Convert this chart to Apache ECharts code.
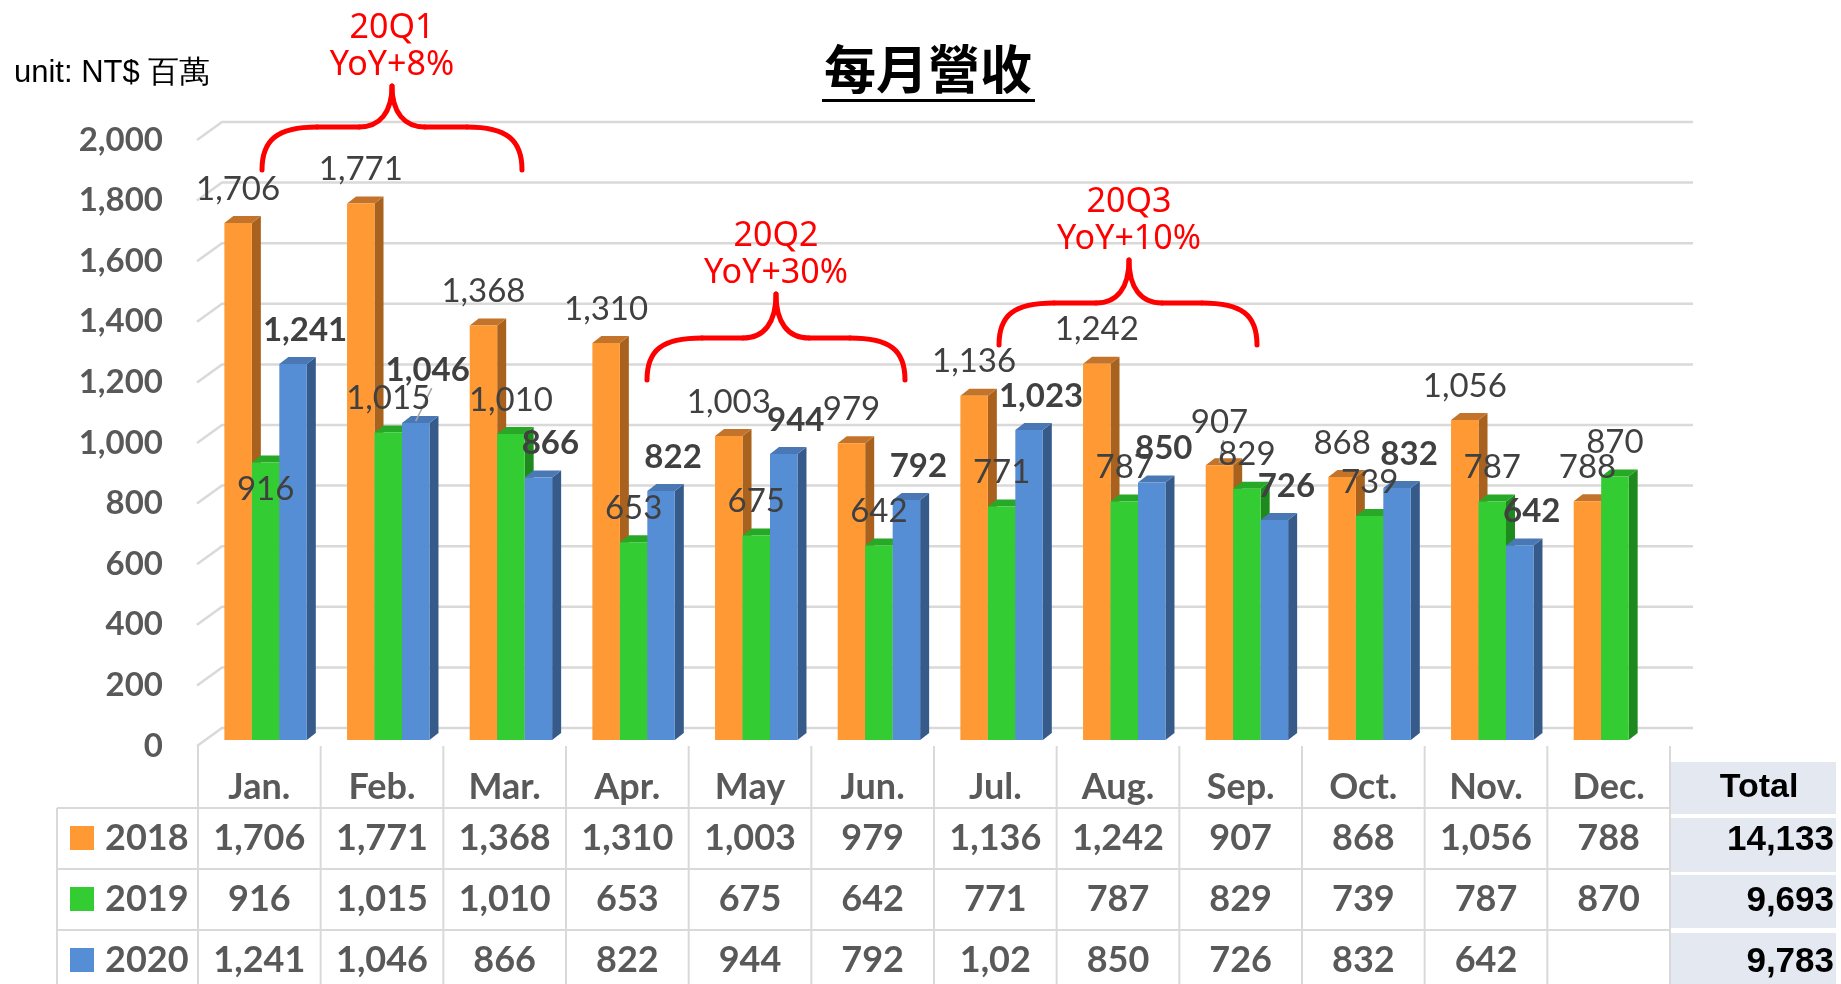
<!DOCTYPE html>
<html>
<head>
<meta charset="utf-8">
<title>每月營收</title>
<script src="https://cdn.jsdelivr.net/npm/echarts@6/dist/echarts.min.js"></script>
<style>
  html, body { margin: 0; padding: 0; background: #fff; }
  #main { width: 1841px; height: 984px; }
</style>
</head>
<body>
<div id="main"></div>
<script>
// 月份 / 年度
const months = ['Jan.', 'Feb.', 'Mar.', 'Apr.', 'May', 'Jun.', 'Jul.', 'Aug.', 'Sep.', 'Oct.', 'Nov.', 'Dec.']
const years = ['2018', '2019', '2020']
// 每月營收 (NT$ 百萬)
const rev2018 = [1706, 1771, 1368, 1310, 1003, 979, 1136, 1242, 907, 868, 1056, 788]
const rev2019 = [916, 1015, 1010, 653, 675, 642, 771, 787, 829, 739, 787, 870]
const rev2020 = [1241, 1046, 866, 822, 944, 792, 1023, 850, 726, 832, 642, null]
const totals = ['14,133', '9,693', '9,783']
const valueTicks = [0, 200, 400, 600, 800, 1000, 1200, 1400, 1600, 1800, 2000]
// 季度標註
const quarterNames = ['20Q1', '20Q2', '20Q3']
const quarterYoY = ['YoY+8%', 'YoY+30%', 'YoY+10%']

const allRev = [rev2018, rev2019, rev2020]
const palette = [
  { front: '#FF9933', side: '#A8621E', top: '#C4742A' },
  { front: '#33CC33', side: '#1E8A1E', top: '#27A827' },
  { front: '#558ED5', side: '#365A8A', top: '#4A78B5' }
]
// the table shows a clipped cell for 2020 Jul
const cellOverride = { '2-6': '1,02' }
// label tweaks (px) where the original moved a label
const labelNudge = { '1-0': 61, '2-1': -19, '0-8': -9 }
const labelDx = [0, 0, 12]

const fmt = v => (v == null ? '' : v.toLocaleString('en-US'))
const GRAY = '#595959'
const chart = echarts.init(document.getElementById('main'))

function barRenderer (s) {
  return function (params, api) {
    const cat = api.value(0)
    const val = api.value(1)
    const base = api.coord([cat, 0])
    const top = api.coord([cat, val])
    const band = api.size([1, 0])[0]
    const w = band * 0.224
    const x0 = base[0] - band * 0.285 + s * w
    const yb = base[1] - 6
    const yt = top[1] - 6
    const dx = 9
    const dy = 7
    const c = palette[s]
    const nudge = labelNudge[s + '-' + cat] || 0
    const children = [
      { type: 'polygon', shape: { points: [[x0 + w, yt], [x0 + w + dx, yt - dy], [x0 + w + dx, yb - dy], [x0 + w, yb]] }, style: { fill: c.side } },
      { type: 'polygon', shape: { points: [[x0, yt], [x0 + dx, yt - dy], [x0 + w + dx, yt - dy], [x0 + w, yt]] }, style: { fill: c.top } },
      { type: 'rect', shape: { x: x0, y: yt, width: w, height: yb - yt }, style: { fill: c.front } },
      {
        type: 'text',
        z2: 100,
        style: {
          text: fmt(val),
          x: x0 + w / 2 + labelDx[s],
          y: yt - 34 + nudge,
          align: 'center',
          verticalAlign: 'middle',
          font: (s === 2 ? 'bold ' : '') + '33px Lato',
          fill: '#404040'
        }
      }
    ]
    // 被移高的標籤加上引導線
    if (nudge < 0) {
      children.push({
        type: 'line',
        z2: 99,
        shape: { x1: x0 + w / 2 + labelDx[s] + 4, y1: yt - 22 + nudge + 6, x2: x0 + w / 2, y2: yt - 2 },
        style: { stroke: '#A6A6A6', lineWidth: 1.5 }
      })
    }
    return { type: 'group', children: children }
  }
}

// 背牆格線 (3D 斜線 + 水平線)
function wallRenderer (params, api) {
  const cs = params.coordSys
  const y = api.coord([0, api.value(1)])[1]
  const xl = cs.x - 1
  return {
    type: 'polyline',
    shape: { points: [[xl, y], [xl + 25, y - 18], [cs.x + cs.width + 23, y - 18]] },
    style: { stroke: '#D9D9D9', lineWidth: 2.5, fill: null }
  }
}

const series = [{
  type: 'custom',
  name: 'wall',
  z: 1,
  clip: false,
  silent: true,
  renderItem: wallRenderer,
  data: valueTicks.map(v => [0, v])
}]
allRev.forEach((rev, s) => {
  const data = []
  rev.forEach((v, i) => { if (v != null) data.push([i, v]) })
  series.push({
    type: 'custom',
    name: years[s],
    z: 2,
    clip: false,
    renderItem: barRenderer(s),
    data: data
  })
})

chart.setOption({
  animation: false,
  textStyle: { fontFamily: 'Lato' },
  grid: { left: 198, right: 171, top: 140, bottom: 238 },
  xAxis: {
    type: 'category',
    data: months,
    axisLine: { show: false },
    axisTick: { show: false },
    axisLabel: { show: false },
    splitLine: { show: false }
  },
  yAxis: {
    type: 'value',
    min: 0,
    max: 2000,
    interval: 200,
    axisLine: { show: false },
    axisTick: { show: false },
    splitLine: { show: false },
    axisLabel: {
      margin: 35,
      color: GRAY,
      fontWeight: 'bold',
      fontSize: 33,
      fontFamily: 'Lato',
      formatter: v => fmt(v)
    }
  },
  series: series
})

// 資料表、標題與標註
function txt (text, x, y, font, fill, align) {
  return {
    type: 'text',
    z: 10,
    style: { text, x, y, font, fill, align: align || 'center', verticalAlign: 'middle', textAlign: align || 'center', textVerticalAlign: 'middle' }
  }
}
function line (x1, y1, x2, y2) {
  return { type: 'line', z: 5, shape: { x1, y1, x2, y2 }, style: { stroke: '#D9D9D9', lineWidth: 2 } }
}
const RED = { stroke: '#FF0000', lineWidth: 5, fill: null, lineCap: 'round' }
function curve (x1, y1, c1x, c1y, c2x, c2y, x2, y2) {
  return { type: 'bezierCurve', z: 12, shape: { x1, y1, cpx1: c1x, cpy1: c1y, cpx2: c2x, cpy2: c2y, x2, y2 }, style: RED }
}
function redLine (x1, y1, x2, y2) {
  return { type: 'line', z: 12, shape: { x1, y1, x2, y2 }, style: RED }
}
// 大括號: 左端、右端、尖端 x、尖端 y、水平段 y、端點 y
function brace (L, R, T, tipY, hy, endY) {
  return [
    curve(L, endY, L, endY - 30, L + 15, hy, L + 55, hy),
    redLine(L + 55, hy, T - 33, hy),
    curve(T - 33, hy, T - 12, hy, T, hy - 15, T, tipY),
    curve(T, tipY, T, hy - 15, T + 12, hy, T + 33, hy),
    redLine(T + 33, hy, R - 55, hy),
    curve(R - 55, hy, R - 15, hy, R, endY - 30, R, endY)
  ]
}

const els = []
const colX = months.map((m, i) => chart.convertToPixel({ xAxisIndex: 0 }, i))
const band = colX[1] - colX[0]
const tableLeft = colX[0] - band / 2
const tableRight = colX[11] + band / 2
const rowY = [838, 899, 960]

// 表格線
for (let k = 0; k <= 12; k++) {
  const x = tableLeft + k * band
  els.push(line(x, 746, x, 984))
}
els.push(line(57, 808, 57, 984))
;[808, 869, 930].forEach(y => els.push(line(57, y, tableRight, y)))

months.forEach((m, i) => {
  els.push(txt(m, colX[i], 787, 'bold 36px Lato', GRAY))
  allRev.forEach((rev, s) => {
    const t = cellOverride[s + '-' + i] || fmt(rev[i])
    els.push(txt(t, colX[i], rowY[s], 'bold 36px Lato', GRAY))
  })
})
years.forEach((y, s) => {
  els.push({ type: 'rect', z: 10, shape: { x: 70, y: rowY[s] - 12, width: 24, height: 24 }, style: { fill: palette[s].front } })
  els.push(txt(y, 105, rowY[s], 'bold 36px Lato', GRAY, 'left'))
})

// Total 欄
const totalCells = [[762, 52], [818, 54], [875, 53], [933, 60]]
totalCells.forEach(c => {
  els.push({ type: 'rect', z: 6, shape: { x: 1671, y: c[0], width: 165, height: c[1] }, style: { fill: '#E4E9F1' } })
})
els.push(txt('Total', 1759, 788, 'bold 34px "Liberation Sans"', '#000'))
totals.forEach((t, s) => els.push(txt(t, 1834, rowY[s] + 2, 'bold 35px "Liberation Sans"', '#000', 'right')))

// 標題
els.push(txt('每月營收', 928, 69, 'bold 52px "Noto Sans CJK TC"', '#000'))
els.push({ type: 'rect', z: 10, shape: { x: 822, y: 99, width: 213, height: 3 }, style: { fill: '#000' } })
els.push(txt('unit: NT$ 百萬', 14, 73, '31px "Liberation Sans"', '#000', 'left'))

// 季度大括號
const braces = [
  [262, 522, 392, 86, 127, 170],
  [647, 905, 776, 294, 338, 380],
  [999, 1257, 1129, 260, 303, 345]
]
braces.forEach((b, q) => {
  brace.apply(null, b).forEach(e => els.push(e))
  els.push(txt(quarterNames[q], b[2], b[3] - 58, '34px "Noto Sans"', '#FF0000'))
  els.push(txt(quarterYoY[q], b[2], b[3] - 21, '34px "Noto Sans"', '#FF0000'))
})

chart.setOption({ graphic: { elements: els } })
</script>
</body>
</html>
